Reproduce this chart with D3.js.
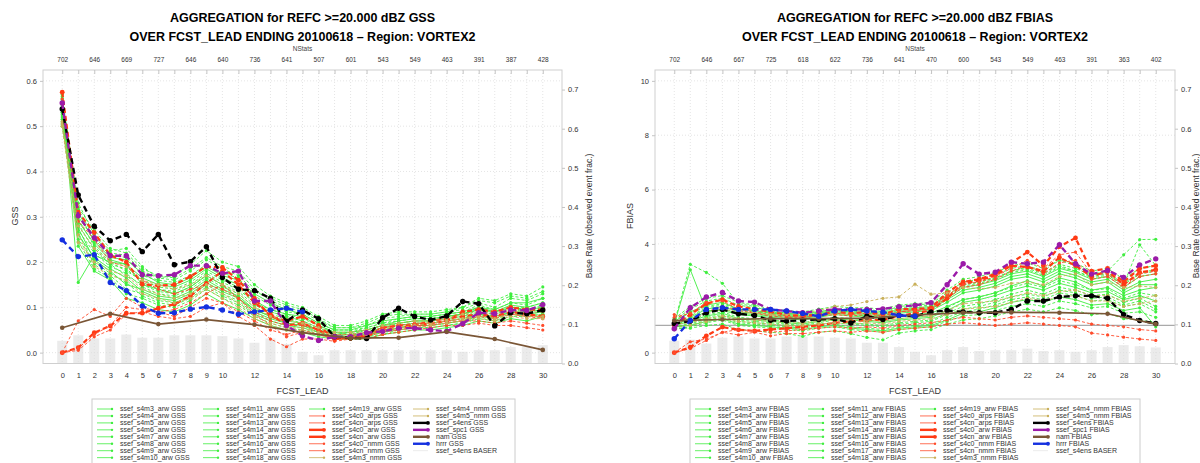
<!DOCTYPE html>
<html><head><meta charset="utf-8">
<script src="https://cdn.jsdelivr.net/npm/d3@7"></script>
<style>body{margin:0;background:#fff}svg{display:block;font-family:"Liberation Sans",Arial,Helvetica,sans-serif}</style>
</head><body><svg id="c" width="1200" height="463"></svg>
<script>
// ---------------- data ----------------
const leads = [0,1,2,3,4,5,6,7,8,9,10,11,12,13,14,15,16,17,18,19,20,21,22,23,24,25,26,27,28,29,30];
const leadsNam = [0,3,6,9,12,15,18,21,24,27,30];
const leadsHrrr = [0,1,2,3,4,5,6,7,8,9,10,11,12,13,14,15];
const xTickLabels = [0,1,2,3,4,5,6,7,8,9,10,12,14,16,18,20,22,24,26,28,30];
const nstatsLeads = [0,2,4,6,8,10,12,14,16,18,20,22,24,26,28,30];
const gssNStats = [702,646,669,727,646,640,736,641,507,601,543,549,463,391,387,428];
const fbiasNStats = [702,646,667,725,618,622,736,641,470,600,543,549,463,391,363,402];
const gssTicks = [0,0.1,0.2,0.3,0.4,0.5,0.6];
const fbiasTicks = [0,2,4,6,8,10];
const baseRateTicks = [0,0.1,0.2,0.3,0.4,0.5,0.6,0.7];
const modelNames = ["ssef_s4m3_arw","ssef_s4m4_arw","ssef_s4m5_arw","ssef_s4m6_arw","ssef_s4m7_arw","ssef_s4m8_arw","ssef_s4m9_arw","ssef_s4m10_arw",
 "ssef_s4m11_arw","ssef_s4m12_arw","ssef_s4m13_arw","ssef_s4m14_arw","ssef_s4m15_arw","ssef_s4m16_arw","ssef_s4m17_arw","ssef_s4m18_arw",
 "ssef_s4m19_arw","ssef_s4c0_arps","ssef_s4cn_arps","ssef_s4c0_arw","ssef_s4cn_arw","ssef_s4c0_nmm","ssef_s4cn_nmm","ssef_s4m3_nmm",
 "ssef_s4m4_nmm","ssef_s4m5_nmm","ssef_s4ens","ssef_spc1","nam","hrrr"];

// GSS
const gss_m3_arw  = [.570,.155,.215,.200,.195,.150,.140,.130,.145,.170,.150,.120,.095,.080,.065,.060,.050,.040,.045,.050,.060,.065,.070,.070,.080,.085,.095,.090,.100,.095,.100];
const gss_m4_arw  = [.560,.320,.270,.230,.220,.185,.170,.165,.185,.210,.190,.180,.140,.115,.100,.090,.070,.055,.055,.060,.075,.080,.085,.085,.090,.095,.110,.100,.120,.115,.130];
const gss_m5_arw  = [.545,.300,.250,.215,.210,.170,.160,.155,.170,.195,.175,.165,.125,.105,.090,.085,.065,.050,.050,.055,.065,.075,.080,.080,.085,.090,.105,.095,.110,.105,.120];
const gss_m6_arw  = [.530,.290,.240,.205,.195,.165,.150,.145,.160,.185,.165,.150,.115,.095,.085,.080,.060,.045,.045,.050,.060,.070,.075,.075,.080,.085,.100,.090,.105,.100,.110];
const gss_m7_arw  = [.520,.280,.230,.195,.185,.155,.140,.135,.150,.175,.155,.140,.110,.090,.080,.070,.055,.045,.040,.045,.055,.065,.070,.070,.075,.080,.095,.085,.100,.095,.105];
const gss_m8_arw  = [.515,.270,.220,.190,.175,.145,.130,.125,.140,.165,.145,.130,.100,.085,.075,.065,.050,.040,.040,.040,.050,.060,.065,.065,.070,.075,.090,.080,.095,.090,.100];
const gss_m9_arw  = [.505,.260,.210,.185,.165,.135,.120,.115,.130,.155,.135,.120,.090,.075,.065,.060,.045,.035,.035,.040,.045,.055,.060,.060,.065,.070,.085,.075,.090,.085,.090];
const gss_m10_arw = [.540,.250,.200,.175,.155,.125,.110,.105,.120,.145,.125,.110,.085,.070,.060,.055,.040,.035,.030,.035,.040,.050,.055,.055,.060,.065,.080,.070,.085,.080,.085];
const gss_m11_arw = [.565,.330,.260,.225,.230,.190,.165,.170,.195,.225,.200,.190,.150,.125,.110,.100,.080,.060,.060,.070,.085,.090,.090,.090,.095,.100,.120,.115,.130,.125,.145];
const gss_m12_arw = [.555,.310,.245,.210,.205,.175,.155,.150,.165,.190,.170,.160,.130,.110,.095,.085,.065,.050,.050,.060,.070,.075,.080,.080,.085,.090,.100,.095,.110,.110,.120];
const gss_m13_arw = [.535,.295,.235,.200,.180,.160,.145,.140,.155,.180,.160,.145,.110,.095,.085,.075,.060,.045,.045,.055,.065,.070,.075,.075,.080,.085,.095,.090,.100,.100,.110];
const gss_m14_arw = [.525,.285,.225,.195,.170,.150,.135,.130,.145,.170,.150,.135,.105,.090,.080,.070,.055,.040,.040,.050,.060,.065,.070,.070,.075,.080,.090,.085,.095,.095,.100];
const gss_m15_arw = [.510,.275,.205,.180,.150,.140,.125,.120,.135,.160,.140,.125,.095,.080,.070,.065,.050,.040,.035,.045,.055,.060,.065,.065,.070,.075,.085,.080,.090,.090,.095];
const gss_m16_arw = [.500,.265,.195,.170,.140,.130,.115,.110,.125,.150,.130,.115,.085,.070,.060,.055,.045,.035,.030,.040,.050,.055,.060,.060,.065,.070,.080,.075,.085,.085,.090];
const gss_m17_arw = [.550,.245,.185,.165,.130,.120,.105,.100,.115,.140,.120,.105,.080,.065,.055,.050,.040,.030,.030,.035,.045,.050,.055,.055,.060,.065,.075,.070,.080,.080,.085];
const gss_m18_arw = [.530,.235,.180,.160,.120,.110,.095,.090,.105,.130,.110,.095,.075,.060,.050,.045,.035,.030,.030,.030,.040,.045,.050,.050,.055,.060,.070,.065,.075,.070,.080];
const gss_m19_arw = [.560,.315,.255,.220,.215,.180,.165,.160,.180,.205,.185,.170,.135,.120,.105,.095,.075,.055,.055,.065,.080,.085,.085,.085,.090,.100,.115,.110,.125,.120,.135];
const gss_c0_arps = [.000,.070,.095,.080,.120,.100,.090,.080,.100,.120,.110,.090,.070,.050,.040,.050,.040,.030,.030,.040,.050,.050,.060,.060,.070,.070,.080,.080,.085,.080,.075];
const gss_cn_arps = [.000,.005,.035,.050,.085,.090,.080,.075,.080,.100,.110,.080,.060,.030,.013,.030,.030,.025,.030,.030,.040,.045,.050,.055,.060,.060,.065,.060,.060,.055,.050];
const gss_c0_arw  = [.575,.310,.265,.215,.200,.151,.148,.150,.168,.190,.188,.160,.120,.080,.070,.080,.060,.030,.035,.035,.055,.060,.060,.065,.070,.090,.095,.090,.100,.095,.095];
const gss_cn_arw  = [.000,.011,.044,.059,.087,.087,.098,.107,.125,.153,.180,.150,.110,.085,.060,.065,.050,.030,.035,.040,.050,.055,.060,.070,.075,.080,.085,.080,.090,.085,.080];
const gss_c0_nmm  = [.560,.290,.250,.200,.190,.160,.140,.130,.140,.150,.140,.120,.090,.070,.060,.060,.050,.040,.040,.045,.055,.060,.065,.065,.070,.075,.080,.075,.085,.080,.080];
const gss_cn_nmm  = [.000,.010,.040,.060,.100,.095,.090,.095,.110,.130,.150,.120,.085,.060,.035,.045,.040,.030,.030,.035,.045,.050,.055,.060,.065,.070,.070,.065,.070,.065,.060];
const gss_m3_nmm  = [.500,.243,.200,.180,.170,.140,.130,.120,.130,.150,.130,.110,.080,.065,.055,.055,.045,.040,.040,.045,.050,.055,.060,.065,.070,.075,.080,.075,.085,.080,.080];
const gss_m4_nmm  = [.510,.280,.230,.200,.190,.160,.150,.140,.150,.170,.150,.130,.100,.080,.070,.065,.055,.045,.045,.050,.060,.065,.070,.070,.075,.085,.090,.085,.095,.090,.090];
const gss_m5_nmm  = [.505,.260,.190,.170,.160,.130,.120,.110,.120,.140,.120,.100,.075,.060,.050,.050,.040,.035,.035,.040,.050,.050,.055,.060,.065,.070,.075,.070,.080,.075,.075];
const gss_s4ens   = [.538,.348,.279,.247,.261,.223,.261,.194,.201,.234,.166,.140,.137,.120,.069,.094,.075,.035,.033,.031,.077,.098,.080,.072,.081,.113,.108,.059,.088,.086,.094];
const gss_spc1    = [.551,.302,.254,.214,.214,.172,.170,.172,.192,.192,.175,.180,.114,.114,.060,.037,.027,.035,.035,.044,.047,.054,.054,.050,.047,.064,.088,.086,.094,.093,.106];
const gss_nam     = [.055,.086,.063,.073,.062,.044,.032,.033,.046,.030,.006];
const gss_hrrr    = [.249,.212,.216,.155,.137,.103,.087,.088,.096,.101,.094,.085,.090,.094,.098,.090];
const gss_baser   = [.058,.072,.064,.064,.074,.066,.066,.072,.072,.072,.070,.064,.053,.064,.050,.030,.021,.034,.034,.034,.034,.034,.034,.034,.034,.030,.034,.034,.042,.042,.047];

// FBIAS
const fb_m3_arw  = [1.05,3.05,1.55,1.55,1.40,1.35,1.30,1.25,1.20,1.30,1.40,1.35,1.30,1.25,1.35,1.40,1.45,1.70,1.95,2.05,2.20,2.45,2.65,2.45,2.75,2.60,2.30,2.40,2.10,2.30,2.40];
const fb_m4_arw  = [1.10,3.25,2.95,2.55,1.80,1.70,1.50,1.45,1.45,1.50,1.60,1.55,1.60,1.50,1.70,1.75,1.80,2.20,2.60,2.70,2.85,3.10,3.20,3.00,3.40,3.20,2.90,3.00,3.60,4.16,4.17];
const fb_m5_arw  = [1.20,1.60,1.90,2.00,1.75,1.65,1.55,1.45,1.40,1.50,1.60,1.55,1.50,1.45,1.60,1.65,1.70,2.10,2.50,2.60,2.75,3.00,3.10,2.90,3.20,3.00,2.75,2.85,2.50,3.97,3.20];
const fb_m6_arw  = [0.95,1.30,1.60,1.70,1.50,1.45,1.40,1.35,1.30,1.40,1.50,1.45,1.40,1.35,1.50,1.55,1.60,1.95,2.30,2.40,2.55,2.80,2.90,2.70,3.00,2.85,2.60,2.70,2.30,2.60,2.70];
const fb_m7_arw  = [1.00,1.20,1.40,1.50,1.30,1.25,1.20,1.15,1.10,1.20,1.30,1.25,1.20,1.15,1.25,1.30,1.35,1.65,1.95,2.05,2.20,2.40,2.55,2.40,2.65,2.50,2.30,2.35,2.00,2.20,2.10];
const fb_m8_arw  = [0.90,1.10,1.30,1.40,1.20,1.15,1.10,1.05,1.00,1.10,1.20,1.10,1.05,1.00,1.10,1.15,1.20,1.45,1.70,1.80,1.95,2.15,2.30,2.15,2.40,2.30,2.10,2.15,1.85,2.00,1.70];
const fb_m9_arw  = [1.15,1.50,1.75,1.85,1.60,1.55,1.45,1.40,1.35,1.45,1.55,1.50,1.45,1.40,1.55,1.60,1.65,2.00,2.40,2.50,2.65,2.90,3.00,2.80,3.10,2.95,2.70,2.80,2.40,2.80,2.90];
const fb_m10_arw = [1.00,1.00,1.20,1.30,1.10,1.05,1.00,0.95,0.90,1.00,1.05,0.95,0.90,0.85,0.95,1.00,1.05,1.30,1.50,1.60,1.75,1.95,2.05,1.95,2.20,2.10,1.90,1.95,1.70,1.80,1.50];
const fb_m11_arw = [1.25,1.70,2.00,2.10,1.85,1.75,1.60,1.55,1.50,1.60,1.70,1.65,1.65,1.60,1.75,1.80,1.85,2.30,2.70,2.80,2.95,3.20,3.30,3.10,3.40,3.30,3.00,3.10,2.70,3.10,3.20];
const fb_m12_arw = [1.05,1.25,1.50,1.60,1.45,1.40,1.35,1.30,1.25,1.35,1.45,1.40,1.35,1.30,1.45,1.50,1.55,1.85,2.20,2.30,2.45,2.70,2.80,2.60,2.90,2.75,2.50,2.60,2.20,2.50,2.50];
const fb_m13_arw = [0.90,1.05,1.25,1.35,1.15,1.10,1.05,1.00,0.95,1.05,1.10,1.05,1.00,0.95,1.05,1.10,1.15,1.40,1.60,1.70,1.85,2.05,2.15,2.05,2.30,2.20,2.00,2.05,1.75,1.90,1.60];
const fb_m14_arw = [0.85,0.95,1.10,1.20,1.00,0.95,0.90,0.85,0.80,0.90,0.95,0.85,0.80,0.75,0.85,0.90,0.95,1.15,1.35,1.40,1.55,1.70,1.80,1.70,1.90,1.80,1.65,1.70,1.45,1.50,1.30];
const fb_m15_arw = [1.00,1.15,1.35,1.45,1.25,1.20,1.15,1.10,1.05,1.15,1.25,1.20,1.15,1.10,1.20,1.25,1.30,1.55,1.85,1.95,2.10,2.30,2.45,2.30,2.55,2.40,2.20,2.25,1.95,2.10,1.90];
const fb_m16_arw = [0.90,0.90,1.00,1.05,0.85,0.80,0.75,0.70,0.60,0.75,0.80,0.70,0.56,0.47,0.72,0.80,0.85,1.05,1.20,1.25,1.35,1.50,1.60,1.50,1.65,1.55,1.40,1.45,1.25,1.20,1.10];
const fb_m17_arw = [1.10,1.35,1.65,1.75,1.55,1.50,1.45,1.40,1.35,1.45,1.55,1.50,1.50,1.45,1.60,1.65,1.70,2.05,2.45,2.55,2.70,2.95,3.05,2.85,3.15,3.00,2.80,2.90,2.50,2.90,3.00];
const fb_m18_arw = [0.95,1.00,1.15,1.25,1.05,1.00,0.95,0.90,0.85,0.95,1.00,0.90,0.85,0.80,0.90,0.95,1.00,1.20,1.45,1.50,1.65,1.85,1.95,1.85,2.05,1.95,1.75,1.80,1.55,1.65,0.95];
const fb_m19_arw = [1.20,1.45,1.70,1.80,1.60,1.55,1.50,1.45,1.40,1.50,1.60,1.55,1.55,1.50,1.65,1.70,1.75,2.10,2.50,2.60,2.75,3.00,3.15,2.95,3.25,3.10,2.85,2.95,2.55,2.95,3.05];
const fb_c0_arps = [1.40,1.20,1.50,1.70,1.55,1.45,1.35,1.30,1.30,1.35,1.40,1.35,1.40,1.30,1.50,1.55,1.60,2.00,2.40,2.50,2.70,3.00,3.20,2.90,3.30,3.40,2.70,2.80,2.40,2.80,2.90];
const fb_cn_arps = [0.00,0.15,0.45,0.75,0.65,0.75,0.62,0.70,0.70,0.75,0.80,0.75,0.80,0.75,0.85,0.90,0.95,1.05,1.10,1.05,1.00,1.05,1.10,1.05,1.00,0.95,0.72,0.65,0.57,0.50,0.45];
const fb_c0_arw  = [1.00,1.40,1.80,1.95,1.70,1.60,1.50,1.40,1.35,1.40,1.50,1.45,1.50,1.40,1.60,1.60,1.65,2.20,2.60,2.70,2.90,3.30,3.70,3.20,3.90,4.22,3.00,3.10,2.60,3.10,3.20];
const fb_cn_arw  = [0.00,0.20,0.62,0.94,0.84,0.80,0.85,0.90,0.95,1.00,1.10,1.15,1.20,1.20,1.35,1.45,1.55,2.00,2.55,2.65,2.85,3.20,3.15,3.00,3.50,3.20,2.80,3.00,2.50,2.95,3.05];
const fb_c0_nmm  = [1.30,1.45,1.85,1.90,1.60,1.50,1.40,1.35,1.30,1.40,1.45,1.40,1.45,1.35,1.50,1.55,1.60,2.10,2.50,2.60,2.80,3.10,3.40,3.10,3.60,3.70,2.90,2.90,2.40,2.90,3.00];
const fb_cn_nmm  = [0.00,0.40,0.50,0.75,0.85,0.80,0.75,0.80,0.85,0.90,0.95,0.90,0.95,0.90,1.00,1.05,1.10,1.20,1.30,1.25,1.20,1.30,1.35,1.30,1.25,1.20,1.05,1.00,0.95,0.85,0.80];
const fb_m3_nmm  = [1.10,1.20,1.45,1.60,1.50,1.45,1.40,1.40,1.45,1.55,1.70,1.75,1.88,2.00,2.05,2.52,2.15,2.20,2.40,2.35,2.40,2.55,2.60,2.50,2.80,2.90,2.50,2.60,2.40,2.45,2.40];
const fb_m4_nmm  = [1.05,1.10,1.25,1.35,1.25,1.20,1.15,1.10,1.10,1.15,1.20,1.15,1.20,1.15,1.25,1.30,1.35,1.55,1.80,1.85,1.90,2.05,2.20,2.10,2.25,2.30,2.10,2.10,1.90,2.00,2.10];
const fb_m5_nmm  = [0.95,1.00,1.15,1.25,1.15,1.10,1.05,1.00,1.00,1.05,1.10,1.05,1.10,1.05,1.15,1.20,1.25,1.40,1.60,1.65,1.70,1.85,2.00,1.90,2.05,2.10,1.90,1.90,1.70,1.80,1.90];
const fb_s4ens   = [1.07,1.16,1.47,1.59,1.43,1.37,1.19,1.16,1.19,1.22,1.25,1.09,1.34,1.22,1.37,1.34,1.50,1.55,1.50,1.47,1.47,1.59,1.90,1.90,2.05,2.09,2.09,2.00,1.40,1.18,1.07];
const fb_spc1    = [0.88,1.65,2.05,2.21,1.90,1.86,1.59,1.53,1.47,1.53,1.59,1.59,1.59,1.61,1.69,1.74,1.84,2.50,3.27,2.89,2.96,3.33,3.27,3.33,3.97,3.27,2.89,3.02,2.77,3.23,3.45];
const fb_nam     = [1.18,1.22,1.25,1.25,1.27,1.38,1.47,1.48,1.47,1.43,1.05];
const fb_hrrr    = [0.51,1.18,1.59,1.65,1.59,1.59,1.59,1.53,1.44,1.34,1.53,1.59,1.53,1.49,1.37,1.34];
const fb_baser   = [.058,.061,.051,.066,.069,.064,.064,.069,.069,.069,.066,.064,.053,.053,.042,.030,.021,.034,.042,.032,.034,.034,.038,.032,.034,.030,.034,.042,.047,.044,.041];

const gssValues = [gss_m3_arw,gss_m4_arw,gss_m5_arw,gss_m6_arw,gss_m7_arw,gss_m8_arw,gss_m9_arw,gss_m10_arw,gss_m11_arw,gss_m12_arw,gss_m13_arw,gss_m14_arw,gss_m15_arw,gss_m16_arw,gss_m17_arw,gss_m18_arw,gss_m19_arw,gss_c0_arps,gss_cn_arps,gss_c0_arw,gss_cn_arw,gss_c0_nmm,gss_cn_nmm,gss_m3_nmm,gss_m4_nmm,gss_m5_nmm,gss_s4ens,gss_spc1,gss_nam,gss_hrrr];
const fbValues = [fb_m3_arw,fb_m4_arw,fb_m5_arw,fb_m6_arw,fb_m7_arw,fb_m8_arw,fb_m9_arw,fb_m10_arw,fb_m11_arw,fb_m12_arw,fb_m13_arw,fb_m14_arw,fb_m15_arw,fb_m16_arw,fb_m17_arw,fb_m18_arw,fb_m19_arw,fb_c0_arps,fb_cn_arps,fb_c0_arw,fb_cn_arw,fb_c0_nmm,fb_cn_nmm,fb_m3_nmm,fb_m4_nmm,fb_m5_nmm,fb_s4ens,fb_spc1,fb_nam,fb_hrrr];

// ---------------- drawing ----------------
const svg = d3.select("#c");

function leadsOf(name){ return name==="nam" ? leadsNam : name==="hrrr" ? leadsHrrr : leads; }
function styleOf(name, i){
  if (/s4m\d+_arw$/.test(name)) return {color:"#3fee3f", w:0.9, dash:(i%3===0)?null:"3,2", r:1.6, thick:false};
  if (name==="ssef_s4c0_arw"||name==="ssef_s4cn_arw") return {color:"#ff3a14", w:2.2, dash:"5,3", r:2.4, thick:true};
  if (/s4c/.test(name)) return {color:"#ff4b2b", w:0.9, dash:"3,2", r:1.6, thick:false};
  if (/s4m\d+_nmm$/.test(name)) return {color:"#c9b05a", w:0.9, dash:"3,2", r:1.6, thick:false};
  if (name==="ssef_s4ens") return {color:"#000000", w:2.4, dash:"6,4", r:2.7, thick:true};
  if (name==="ssef_spc1") return {color:"#9b1aa8", w:2.4, dash:"6,4", r:2.7, thick:true};
  if (name==="nam") return {color:"#7a5636", w:1.7, dash:null, r:2.3, thick:true};
  return {color:"#1530e0", w:2.4, dash:"6,4", r:2.7, thick:true};
}

function panel(cfg){
  const top = 70, bot = 363.5;
  const x = d3.scaleLinear().domain([-1.2,31.2]).range([cfg.left,cfg.right]);
  const y = d3.scaleLinear().domain(cfg.yDomain).range([bot,top]);
  const yR = d3.scaleLinear().domain([0,0.75]).range([bot,top]);
  const g = svg.append("g");

  // base-rate bars
  g.append("g").selectAll("rect").data(leads).join("rect")
    .attr("x",d=>x(d)-5).attr("width",10)
    .attr("y",(d,i)=>yR(cfg.baser[i])).attr("height",(d,i)=>yR(0)-yR(cfg.baser[i]))
    .attr("fill","#ebebeb");

  // grid
  g.append("g").selectAll("line").data(leads).join("line")
    .attr("x1",d=>x(d)).attr("x2",d=>x(d)).attr("y1",top).attr("y2",bot)
    .attr("stroke","#dedede").attr("stroke-width",0.8).attr("stroke-dasharray","1,2");
  g.append("g").selectAll("line").data(cfg.yTicks).join("line")
    .attr("x1",cfg.left).attr("x2",cfg.right).attr("y1",d=>y(d)).attr("y2",d=>y(d))
    .attr("stroke","#dedede").attr("stroke-width",0.8).attr("stroke-dasharray","1,2");

  if (cfg.refLine!=null){
    g.append("line").attr("x1",cfg.left).attr("x2",cfg.right)
      .attr("y1",y(cfg.refLine)).attr("y2",y(cfg.refLine))
      .attr("stroke","#aaaaaa").attr("stroke-width",1.3);
  }

  // box
  g.append("rect").attr("x",cfg.left).attr("y",top).attr("width",cfg.right-cfg.left).attr("height",bot-top)
    .attr("fill","none").attr("stroke","#cfcfcf").attr("stroke-width",1);

  // axes
  const styleAxis = (sel, fs) => {
    sel.select(".domain").remove();
    sel.selectAll("line").attr("stroke","#c4c4c4");
    sel.selectAll("text").attr("font-size",fs).attr("fill","#333").attr("font-family",null);
  };
  g.append("g").attr("transform",`translate(${cfg.left},0)`)
    .call(d3.axisLeft(y).tickValues(cfg.yTicks).tickFormat(cfg.fmt).tickSize(3).tickPadding(3))
    .call(s=>styleAxis(s,"7.5px"));
  g.append("g").attr("transform",`translate(${cfg.right},0)`)
    .call(d3.axisRight(yR).tickValues(baseRateTicks).tickFormat(d3.format(".1f")).tickSize(3).tickPadding(3))
    .call(s=>styleAxis(s,"7.5px"));
  g.append("g").attr("transform",`translate(0,${bot})`)
    .call(d3.axisBottom(x).tickValues(xTickLabels).tickFormat(d3.format("d")).tickSize(0).tickPadding(9.5))
    .call(s=>styleAxis(s,"7.5px"));
  g.append("g").attr("transform",`translate(0,${top})`)
    .call(d3.axisBottom(x).tickValues(leads).tickFormat("").tickSize(4))
    .call(s=>styleAxis(s,"7px"));
  g.append("g").attr("transform",`translate(0,${top})`)
    .call(d3.axisTop(x).tickValues(nstatsLeads).tickFormat((d,i)=>cfg.nstats[i]).tickSize(0).tickPadding(8))
    .call(s=>styleAxis(s,"6.5px"));

  const cx = (cfg.left+cfg.right)/2;
  g.append("text").attr("x",cx).attr("y",51).attr("text-anchor","middle").attr("font-size","6.5px").attr("fill","#444").text("NStats");
  g.append("text").attr("x",cx).attr("y",22).attr("text-anchor","middle").attr("font-size","12.5px").attr("font-weight","bold").text(cfg.title1);
  g.append("text").attr("x",cx).attr("y",41).attr("text-anchor","middle").attr("font-size","12.5px").attr("font-weight","bold").text(cfg.title2);
  g.append("text").attr("x",cx).attr("y",394).attr("text-anchor","middle").attr("font-size","9px").attr("fill","#333").text("FCST_LEAD");
  g.append("text").attr("transform",`translate(${cfg.yLabelX},216) rotate(-90)`).attr("text-anchor","middle")
    .attr("font-size","9px").attr("fill","#333").text(cfg.yLabel);
  g.append("text").attr("transform",`translate(${cfg.rLabelX},216) rotate(-90)`).attr("text-anchor","middle")
    .attr("font-size","8.5px").attr("fill","#333").text("Base Rate (observed event frac.)");

  // series
  const line = d3.line().x(d=>x(d[0])).y(d=>y(d[1]));
  modelNames.forEach((name,i)=>{
    const st = styleOf(name,i);
    const xs = leadsOf(name);
    const pts = cfg.values[i].map((v,j)=>[xs[j],v]);
    const sg = g.append("g");
    sg.append("path").attr("d",line(pts)).attr("fill","none").attr("stroke",st.color)
      .attr("stroke-width",st.w).attr("stroke-dasharray",st.dash);
    sg.selectAll("circle").data(pts).join("circle")
      .attr("cx",d=>x(d[0])).attr("cy",d=>y(d[1])).attr("r",st.r).attr("fill",st.color);
  });

  // legend
  const L = cfg.legend;
  const lg = svg.append("g");
  lg.append("rect").attr("x",L.x).attr("y",399).attr("width",L.w).attr("height",70)
    .attr("fill","#fff").attr("stroke","#cccccc").attr("stroke-width",1);
  const items = modelNames.map((n,i)=>({label:n+" "+cfg.stat, st:styleOf(n,i)}));
  items.push({label:"ssef_s4ens BASER", st:{color:"#e6e6e6", w:1.2, dash:null, r:0, thick:false}});
  items.forEach((it,k)=>{
    const col = Math.floor(k/8), row = k%8;
    const lx = L.cols[col], ly = 409 + row*6.95;
    lg.append("line").attr("x1",lx).attr("x2",lx+15).attr("y1",ly).attr("y2",ly)
      .attr("stroke",it.st.color).attr("stroke-width",it.st.thick?2.4:0.8);
    if (it.st.r>0) lg.append("circle").attr("cx",lx+15).attr("cy",ly).attr("r",it.st.thick?1.9:1.2).attr("fill",it.st.color);
    lg.append("text").attr("x",lx+23).attr("y",ly+2.4).attr("font-size","7px").attr("fill","#333").text(it.label);
  });
}

panel({left:43, right:562, yDomain:[-0.024,0.624], yTicks:gssTicks, fmt:d3.format(".1f"),
  nstats:gssNStats, baser:gss_baser, values:gssValues, refLine:null, stat:"GSS",
  title1:"AGGREGATION for REFC >=20.000 dBZ GSS", title2:"OVER FCST_LEAD ENDING 20100618 \u2013 Region: VORTEX2",
  yLabel:"GSS", yLabelX:18, rLabelX:592, legend:{x:92, w:423, cols:[97,203,309,413]}});
panel({left:655, right:1175, yDomain:[-0.4,10.4], yTicks:fbiasTicks, fmt:d3.format("d"),
  nstats:fbiasNStats, baser:fb_baser, values:fbValues, refLine:1, stat:"FBIAS",
  title1:"AGGREGATION for REFC >=20.000 dBZ FBIAS", title2:"OVER FCST_LEAD ENDING 20100618 \u2013 Region: VORTEX2",
  yLabel:"FBIAS", yLabelX:633, rLabelX:1199, legend:{x:690, w:450, cols:[695,808,920,1033]}});
</script></body></html>
